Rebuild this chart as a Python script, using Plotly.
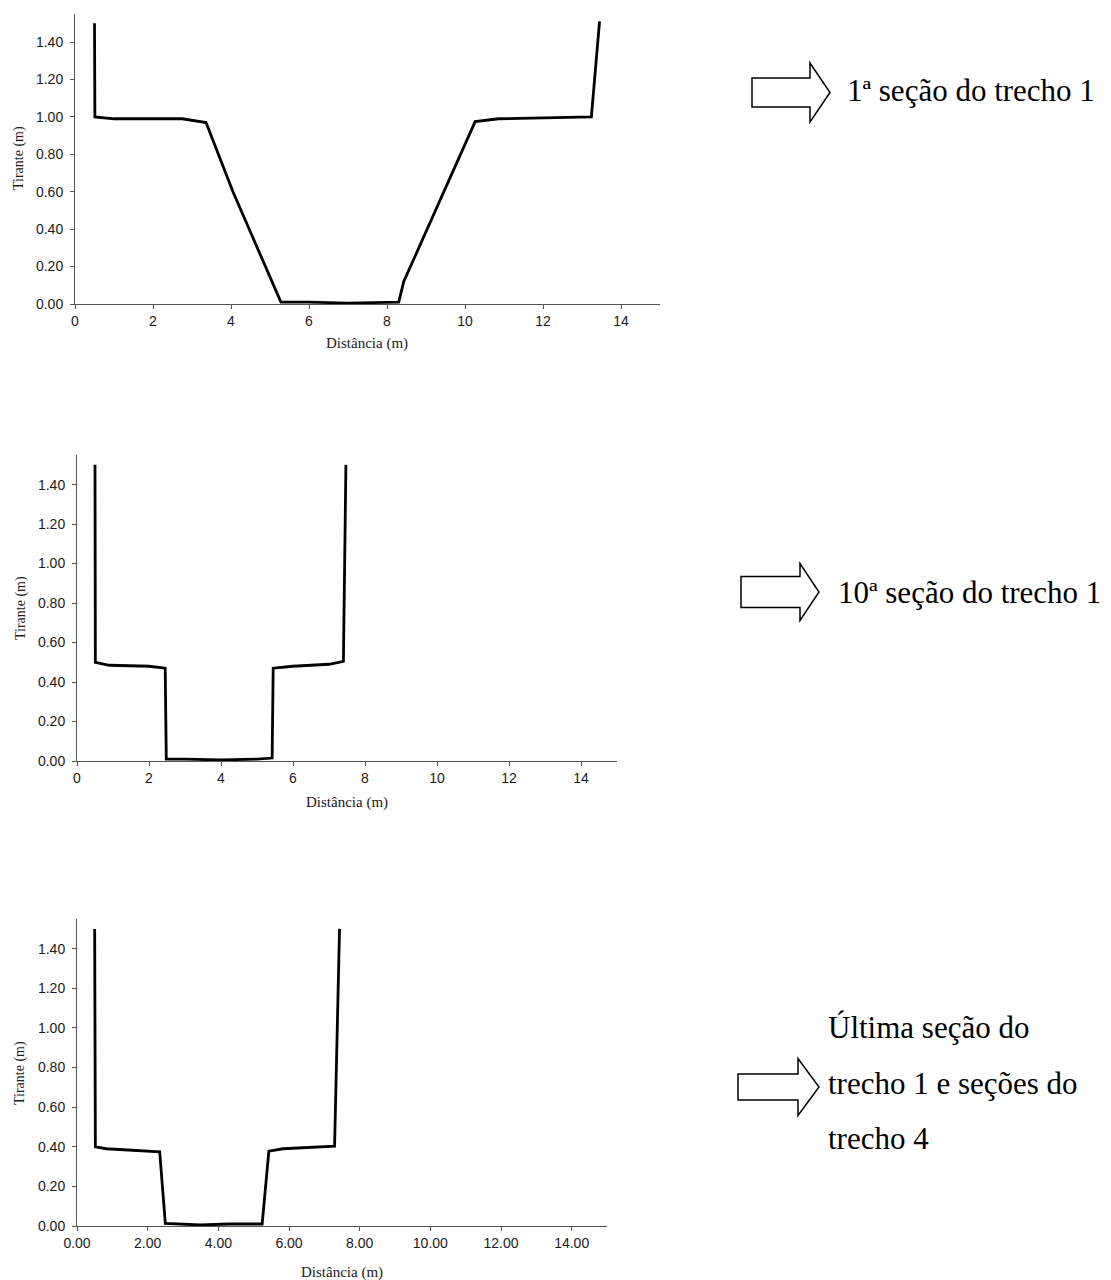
import plotly.graph_objects as go

# Cross-section survey points: distance (m) vs water depth "tirante" (m)
sec1_dist = [0.50, 0.51, 1.00, 2.00, 2.75, 3.36, 4.05, 5.28, 6.00, 7.00, 8.00, 8.30, 8.43, 10.26, 10.86, 13.24, 13.45]
sec1_depth = [1.50, 1.00, 0.99, 0.99, 0.99, 0.97, 0.60, 0.01, 0.01, 0.005, 0.01, 0.01, 0.12, 0.975, 0.99, 1.00, 1.51]

sec10_dist = [0.50, 0.51, 0.90, 2.00, 2.45, 2.48, 3.00, 4.00, 5.00, 5.42, 5.45, 6.00, 7.00, 7.40, 7.47]
sec10_depth = [1.50, 0.50, 0.485, 0.48, 0.47, 0.01, 0.01, 0.005, 0.01, 0.015, 0.47, 0.48, 0.49, 0.505, 1.50]

last_dist = [0.50, 0.52, 0.83, 2.34, 2.50, 3.50, 4.30, 5.24, 5.43, 5.83, 7.29, 7.43]
last_depth = [1.50, 0.40, 0.39, 0.375, 0.013, 0.005, 0.01, 0.01, 0.378, 0.39, 0.403, 1.50]

x_ticks_int = [0, 2, 4, 6, 8, 10, 12, 14]
y_ticks = [0.0, 0.2, 0.4, 0.6, 0.8, 1.0, 1.2, 1.4]

labels = ["1ª seção do trecho 1", "10ª seção do trecho 1",
          ["Última seção do", "trecho 1 e seções do", "trecho 4"]]
x_title = "Distância (m)"
y_title = "Tirante (m)"

W, H = 1111, 1280


def fx(p):
    return p / W


def fy(p):
    return 1 - p / H


# panel boxes in pixels: left, right, bottom (y=0), top (y=1.55)
panels = [
    dict(l=75, r=660, b=304, t=14),
    dict(l=77, r=617, b=761, t=455),
    dict(l=77, r=607, b=1226, t=919),
]

series = [(sec1_dist, sec1_depth), (sec10_dist, sec10_depth), (last_dist, last_depth)]

fig = go.Figure()
tick_font = dict(family="Liberation Sans, Arial, sans-serif", size=14, color="#1a1a1a")
serif = "Liberation Serif, Times New Roman, serif"

for i, ((xs, ys), p) in enumerate(zip(series, panels)):
    n = "" if i == 0 else str(i + 1)
    fig.add_trace(go.Scatter(
        x=xs, y=ys, mode="lines",
        line=dict(color="black", width=2.8),
        xaxis="x" + n, yaxis="y" + n, showlegend=False,
    ))
    is_last = i == 2
    fig.layout["xaxis" + n] = dict(
        domain=[fx(p["l"]), fx(p["r"])], anchor="y" + n,
        range=[0, 15], tickvals=x_ticks_int,
        ticktext=[f"{v:.2f}" if is_last else f"{v:d}" for v in x_ticks_int],
        showgrid=False, zeroline=False, showline=True, automargin=False,
        linecolor="#555", linewidth=1, ticks="outside", ticklen=4,
        tickcolor="#555", tickfont=tick_font, fixedrange=True,
    )
    fig.layout["yaxis" + n] = dict(
        domain=[fy(p["b"]), fy(p["t"])], anchor="x" + n,
        range=[0, 1.55], tickvals=y_ticks,
        ticktext=[f"{v:.2f}" for v in y_ticks],
        showgrid=False, zeroline=False, showline=True, automargin=False,
        linecolor="#555", linewidth=1, ticks="outside", ticklen=4,
        ticklabelstandoff=4,
        tickcolor="#555", tickfont=tick_font, fixedrange=True,
    )

# axis titles
x_title_pos = [(367, 343), (347, 802), (342, 1272)]
y_title_pos = [(19, 158), (21, 608), (20, 1073)]
for (cx, cy) in x_title_pos:
    fig.add_annotation(x=fx(cx), y=fy(cy), xref="paper", yref="paper",
                       text=x_title, showarrow=False, xanchor="center", yanchor="middle",
                       font=dict(family=serif, size=15, color="#1a1a1a"))
for (cx, cy) in y_title_pos:
    fig.add_annotation(x=fx(cx), y=fy(cy), xref="paper", yref="paper",
                       text=y_title, showarrow=False, xanchor="center", yanchor="middle",
                       textangle=-90,
                       font=dict(family=serif, size=14, color="#1a1a1a"))

# block arrows pointing at the captions
arrows = [
    dict(l=752, base=810, tip=830, cy=92.5, body=14.5, head=29.5),
    dict(l=741, base=800, tip=819, cy=592, body=15.5, head=28.5),
    dict(l=738, base=798, tip=819, cy=1087, body=13, head=28.5),
]
for a in arrows:
    pts = [
        (a["l"], a["cy"] - a["body"]), (a["base"], a["cy"] - a["body"]),
        (a["base"], a["cy"] - a["head"]), (a["tip"], a["cy"]),
        (a["base"], a["cy"] + a["head"]), (a["base"], a["cy"] + a["body"]),
        (a["l"], a["cy"] + a["body"]),
    ]
    path = "M " + " L ".join(f"{fx(x):.5f},{fy(y):.5f}" for x, y in pts) + " Z"
    fig.add_shape(type="path", path=path, xref="paper", yref="paper",
                  line=dict(color="black", width=1.5), fillcolor="white")

cap_font = dict(family=serif, size=31, color="black")
fig.add_annotation(x=fx(845), y=fy(90), xref="paper", yref="paper", text=labels[0],
                   showarrow=False, xanchor="left", yanchor="middle", font=cap_font)
fig.add_annotation(x=fx(836), y=fy(592), xref="paper", yref="paper", text=labels[1],
                   showarrow=False, xanchor="left", yanchor="middle", font=cap_font)
for line, cy in zip(labels[2], [1027, 1083, 1138]):
    fig.add_annotation(x=fx(826), y=fy(cy), xref="paper", yref="paper", text=line,
                       showarrow=False, xanchor="left", yanchor="middle", font=cap_font)

fig.update_layout(
    width=W, height=H, autosize=False,
    margin=dict(l=0, r=0, t=0, b=0),
    paper_bgcolor="white", plot_bgcolor="white",
)

fig.write_html("out.html", config={"displayModeBar": False})
